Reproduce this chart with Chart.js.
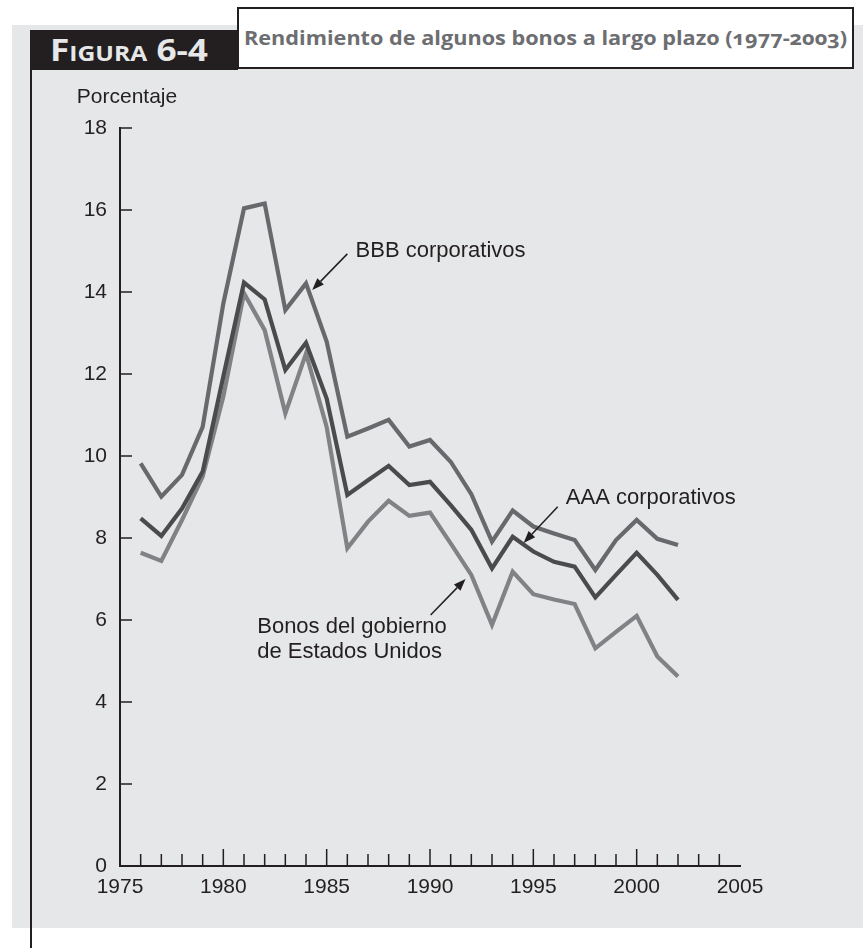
<!DOCTYPE html>
<html><head><meta charset="utf-8">
<script src="https://cdn.jsdelivr.net/npm/chart.js@4.4.1/dist/chart.umd.min.js"></script>
<style>
html,body{margin:0;padding:0;background:#fff;}
#wrap{position:relative;width:867px;height:948px;overflow:hidden;}
#panel{position:absolute;left:12px;top:25px;width:851px;height:903px;background:#e6e7e8;}
#vline{position:absolute;left:30px;top:68px;width:2px;height:880px;background:#231f20;}
#fig{position:absolute;left:30px;top:30px;width:208px;height:40px;background:#231f20;}
#figtxt{position:absolute;left:50px;top:30px;height:40px;line-height:40px;white-space:nowrap;
  font-family:"Open Sans",sans-serif;font-weight:700;font-size:30px;font-variant:small-caps;color:#e6e7e8;transform-origin:0 50%;}
#title{position:absolute;left:237px;top:7px;width:617px;height:62px;box-sizing:border-box;background:#fff;border:2px solid #231f20;}
#titletxt{position:absolute;left:244px;top:7px;height:62px;line-height:62px;white-space:nowrap;
  font-family:"Open Sans",sans-serif;font-weight:700;font-size:20px;color:#6d6e71;font-feature-settings:"onum";transform-origin:0 50%;}
canvas{position:absolute;left:0;top:0;}
</style></head>
<body>
<div id="wrap">
  <div id="panel"></div>
  <div id="vline"></div>
  <div id="fig"></div>
  <div id="figtxt">Figura 6-4</div>
  <div id="title"></div>
  <div id="titletxt">Rendimiento de algunos bonos a largo plazo (1977-2003)</div>
  <canvas id="c" width="867" height="948"></canvas>
</div>
<script>
// ---- data ----
const years = [1976,1977,1978,1979,1980,1981,1982,1983,1984,1985,1986,1987,1988,1989,1990,1991,1992,1993,1994,1995,1996,1997,1998,1999,2000,2001,2002];
const bbbYield = [9.82,9.01,9.54,10.71,13.72,16.04,16.16,13.56,14.21,12.79,10.47,10.67,10.88,10.23,10.39,9.86,9.07,7.91,8.67,8.28,8.11,7.95,7.22,7.95,8.44,7.98,7.83];
const aaaYield = [8.48,8.05,8.72,9.62,11.94,14.23,13.82,12.10,12.76,11.40,9.05,9.41,9.76,9.29,9.37,8.80,8.20,7.26,8.03,7.67,7.42,7.30,6.55,7.10,7.64,7.10,6.49];
const govYield = [7.64,7.44,8.44,9.50,11.45,13.97,13.07,11.04,12.50,10.71,7.75,8.40,8.91,8.54,8.62,7.87,7.10,5.88,7.18,6.63,6.50,6.39,5.31,5.71,6.10,5.11,4.62];
const xTickLabels = [1975,1980,1985,1990,1995,2000,2005];
const yTickLabels = [0,2,4,6,8,10,12,14,16,18];
const yAxisTitle = 'Porcentaje';
const seriesNames = ['BBB corporativos','AAA corporativos','Bonos del gobierno de Estados Unidos'];

// fit header texts
function fit(id, w){ const el=document.getElementById(id); const r=el.getBoundingClientRect().width; el.style.transform='scaleX('+(w/r)+')'; }
fit('figtxt',158); fit('titletxt',603);

const FONT = "'Liberation Sans', Arial, Helvetica, sans-serif";
const INK = '#231f20';
const pts = arr => years.map((yr,i)=>({x:yr,y:arr[i]}));

const notes = [
  {lines:['BBB corporativos'], at:[1986.4,15.0], from:[1986.0,14.93], to:[1984.3,14.05]},
  {lines:['AAA corporativos'], at:[1996.57,8.98], from:[1996.18,8.76], to:[1994.53,7.88]},
  {lines:['Bonos del gobierno','de Estados Unidos'], at:[1981.64,5.83], from:[1990.03,6.12], to:[1991.72,7.0]}
];

const decor = {
  id:'decor',
  beforeDatasetsDraw(chart){
    const {ctx, chartArea:{left,bottom,top}, scales:{x,y}} = chart;
    ctx.save(); ctx.strokeStyle=INK; ctx.lineWidth=1.5;
    yTickLabels.forEach(v=>{ if(v===0) return; const py=y.getPixelForValue(v);
      ctx.beginPath(); ctx.moveTo(left,py); ctx.lineTo(left+12,py); ctx.stroke(); });
    for(let yr=xTickLabels[0]+1; yr<xTickLabels[xTickLabels.length-1]; yr++){
      const px=x.getPixelForValue(yr); const len=(yr%5===0)?17:12;
      ctx.beginPath(); ctx.moveTo(px,bottom); ctx.lineTo(px,bottom-len); ctx.stroke(); }
    ctx.fillStyle=INK; ctx.font='21px '+FONT; ctx.textAlign='center'; ctx.textBaseline='middle';
    ctx.fillText(yAxisTitle, left+7, top-31);
    ctx.restore();
  },
  afterDatasetsDraw(chart){
    const {ctx, scales:{x,y}} = chart;
    ctx.save(); ctx.fillStyle=INK; ctx.strokeStyle=INK; ctx.lineWidth=1.5;
    ctx.font='22px '+FONT; ctx.textAlign='left'; ctx.textBaseline='middle';
    notes.forEach(n=>{
      const tx=x.getPixelForValue(n.at[0]), ty=y.getPixelForValue(n.at[1]);
      n.lines.forEach((s,i)=>ctx.fillText(s,tx,ty+i*25));
      const fx=x.getPixelForValue(n.from[0]), fy=y.getPixelForValue(n.from[1]);
      const ex=x.getPixelForValue(n.to[0]), ey=y.getPixelForValue(n.to[1]);
      const ang=Math.atan2(ey-fy,ex-fx), L=12, W=4.5;
      const bx=ex-L*Math.cos(ang), by=ey-L*Math.sin(ang);
      ctx.beginPath(); ctx.moveTo(fx,fy); ctx.lineTo(bx,by); ctx.stroke();
      ctx.beginPath(); ctx.moveTo(ex,ey);
      ctx.lineTo(bx+W*Math.sin(ang), by-W*Math.cos(ang));
      ctx.lineTo(bx-W*Math.sin(ang), by+W*Math.cos(ang));
      ctx.closePath(); ctx.fill();
    });
    ctx.restore();
  }
};

const ds = (label,data,color)=>({label,data:pts(data),borderColor:color,borderWidth:4.2,pointRadius:0,tension:0,
  borderJoinStyle:'miter',borderCapStyle:'butt',fill:false});

new Chart(document.getElementById('c'),{
  type:'line',
  data:{datasets:[
    ds(seriesNames[0],bbbYield,'#68696c'),
    ds(seriesNames[1],aaaYield,'#4b4b4d'),
    ds(seriesNames[2],govYield,'#818285')
  ]},
  options:{
    responsive:false, animation:false, devicePixelRatio:1,
    layout:{padding:{top:128,right:127,left:0,bottom:0}},
    plugins:{legend:{display:false},tooltip:{enabled:false}},
    scales:{
      x:{type:'linear',min:1975,max:2005,
        afterBuildTicks:s=>{s.ticks=xTickLabels.map(v=>({value:v}));},
        afterFit:s=>{s.height=82;},
        grid:{display:false,drawTicks:false},
        border:{display:true,color:INK,width:2},
        ticks:{padding:9,color:INK,font:{family:FONT,size:21},maxRotation:0,autoSkip:false,callback:v=>String(v)}},
      y:{min:0,max:18,
        afterBuildTicks:s=>{s.ticks=yTickLabels.map(v=>({value:v}));},
        afterFit:s=>{s.width=120;},
        grid:{display:false,drawTicks:false},
        border:{display:true,color:INK,width:2},
        ticks:{padding:13,color:INK,font:{family:FONT,size:21},callback:v=>String(v)}}
    }
  },
  plugins:[decor]
});
</script>
</body></html>
